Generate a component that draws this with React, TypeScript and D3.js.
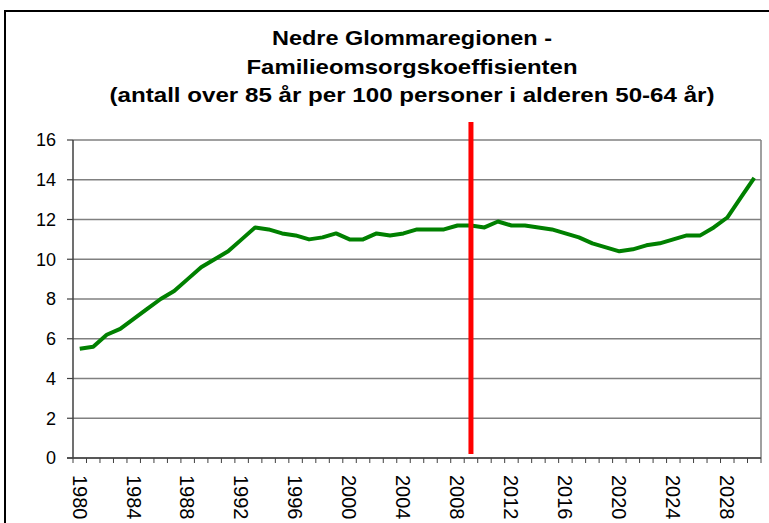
import React from "react";
import * as d3 from "d3";

const years: number[] = d3.range(1980, 2031);
const values: number[] = [
  5.5, 5.6, 6.2, 6.5, 7.0, 7.5, 8.0, 8.4, 9.0, 9.6,
  10.0, 10.4, 11.0, 11.6, 11.5, 11.3, 11.2, 11.0, 11.1, 11.3,
  11.0, 11.0, 11.3, 11.2, 11.3, 11.5, 11.5, 11.5, 11.7, 11.7,
  11.6, 11.9, 11.7, 11.7, 11.6, 11.5, 11.3, 11.1, 10.8, 10.6,
  10.4, 10.5, 10.7, 10.8, 11.0, 11.2, 11.2, 11.6, 12.1, 13.1,
  14.1,
];
const yTicks: number[] = [0, 2, 4, 6, 8, 10, 12, 14, 16];
const xLabelYears: number[] = d3.range(1980, 2030, 4);
const markerYear = 2009;
const titleLines: string[] = [
  "Nedre Glommaregionen -",
  "Familieomsorgskoeffisienten",
  "(antall over 85 år per 100 personer i alderen 50-64 år)",
];

export default function App() {
  const W = 769, H = 523;
  const left = 73, right = 761, top = 140, bottom = 458;
  const x = d3.scaleBand<number>().domain(years).range([left, right]).padding(0);
  const y = d3.scaleLinear().domain([0, 16]).range([bottom, top]);
  const cx = (yr: number) => (x(yr) as number) + x.bandwidth() / 2;
  const line = d3.line<number>().x((_, i) => cx(years[i])).y((d) => y(d));
  const font = "'Liberation Sans', Arial, sans-serif";
  const titleWidths = [280, 331, 605];
  const titleBaselines = [45, 73.5, 102];
  const boundaries = d3.range(0, years.length + 1).map((k) => left + k * x.step());

  return (
    <svg width={W} height={H} style={{ position: "absolute", left: 0, top: 0 }} fontFamily={font}>
      <rect x={0} y={0} width={W} height={H} fill="#fff" />
      <rect x={5} y={11} width={W + 20} height={H + 20} fill="none" stroke="#000" strokeWidth={2} />
      {titleLines.map((t, i) => (
        <text key={i} x={412} y={titleBaselines[i]} textAnchor="middle" fontSize={21} fontWeight="bold"
          textLength={titleWidths[i]} lengthAdjust="spacingAndGlyphs" fill="#000">{t}</text>
      ))}
      {yTicks.map((v) => (
        <g key={v}>
          <line x1={left} x2={right} y1={y(v)} y2={y(v)} stroke="#808080" strokeWidth={1.5} />
          <line x1={left - 6} x2={left} y1={y(v)} y2={y(v)} stroke="#404040" strokeWidth={1.2} />
          <text x={56} y={y(v)} dy="0.36em" textAnchor="end" fontSize={18} fill="#000">{v}</text>
        </g>
      ))}
      <line x1={right} x2={right} y1={top} y2={bottom} stroke="#808080" strokeWidth={1.5} />
      <line x1={left} x2={left} y1={top} y2={bottom} stroke="#404040" strokeWidth={1.5} />
      <line x1={left - 6} x2={right} y1={bottom} y2={bottom} stroke="#404040" strokeWidth={1.5} />
      {boundaries.map((bx, k) => (
        <line key={k} x1={bx} x2={bx} y1={bottom} y2={bottom + 5} stroke="#404040" strokeWidth={1} />
      ))}
      {xLabelYears.map((yr) => (
        <text key={yr} transform={`translate(${cx(yr)},${475}) rotate(90)`} dy="0.36em"
          textAnchor="start" fontSize={20} fill="#000">{yr}</text>
      ))}
      <path d={line(values) || ""} fill="none" stroke="#008000" strokeWidth={4} strokeLinejoin="round" />
      <line x1={cx(markerYear)} x2={cx(markerYear)} y1={122} y2={454} stroke="#ff0000" strokeWidth={5} />
    </svg>
  );
}
